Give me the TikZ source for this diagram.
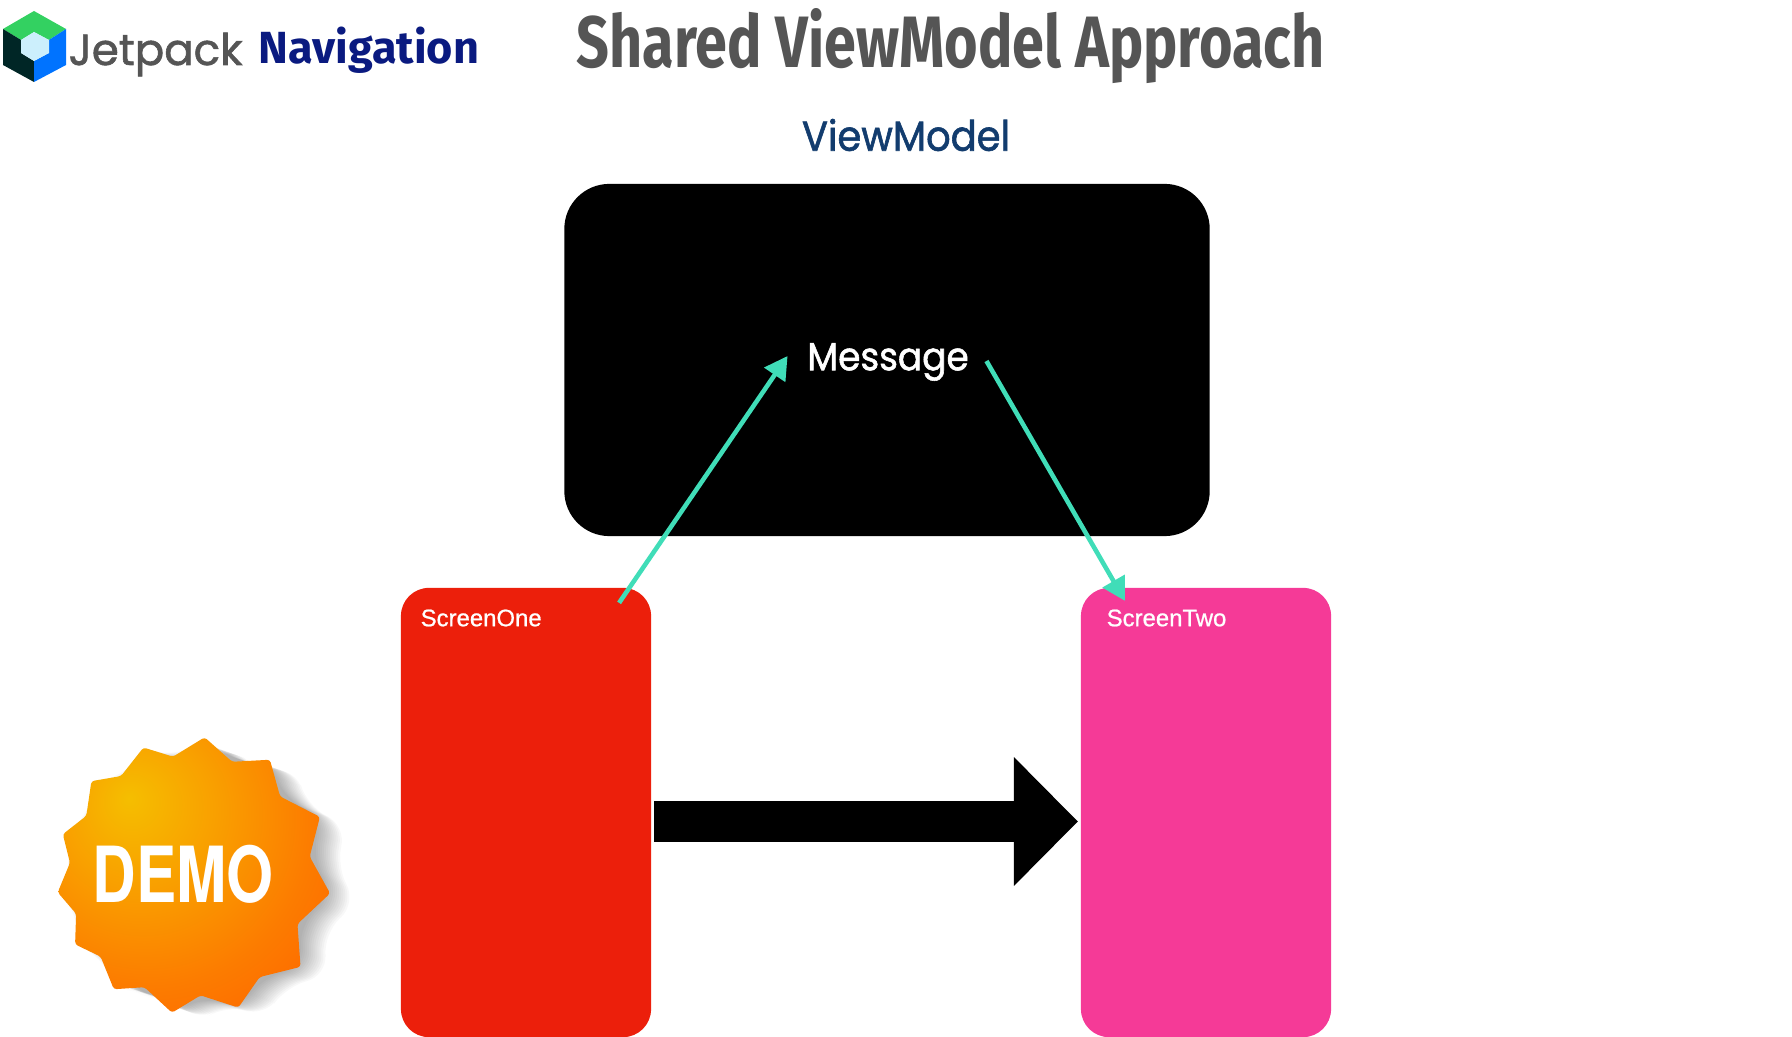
\documentclass[tikz,border=0pt]{standalone}
\usepackage{fontspec}
\usetikzlibrary{calc,arrows.meta}
\newfontfamily\titlefont[FakeStretch=0.79]{Fira Sans}
\newfontfamily\geofont[FakeStretch=0.92,FakeBold=1.4]{Poppins}
\newfontfamily\jetfont[FakeBold=1.4]{Poppins}
\newfontfamily\navfont{Fira Sans}
\newfontfamily\screenfont[FakeBold=0.8]{Liberation Sans}
\newfontfamily\demofont[FakeStretch=0.78]{TeX Gyre Heros}
\definecolor{tealline}{HTML}{40DDB8}
\definecolor{redbox}{HTML}{EC1F0B}
\definecolor{pinkbox}{HTML}{F53A97}
\definecolor{inkblue}{HTML}{123C6E}
\definecolor{navblue}{HTML}{0A1A80}
\definecolor{titlegray}{HTML}{555555}
\definecolor{glowa}{HTML}{F5BE00}
\definecolor{glowb}{HTML}{F9A000}
\definecolor{glowc}{HTML}{FC7C00}
\definecolor{glowd}{HTML}{FF6400}
\pgfdeclareradialshading{badgeglow}{\pgfpoint{-12bp}{14bp}}{%
  color(0bp)=(glowa);
  color(14bp)=(glowb);
  color(30bp)=(glowc);
  color(44bp)=(glowd);
  color(100bp)=(glowd)}
\def\badgeshape{(144,750) -- (173,759) -- (204,740) -- (231,764) -- (268,762) -- (278,798)
  -- (317,818) -- (307,857) -- (327,893) -- (295,923) -- (298,965) -- (258,975)
  -- (237,1005) -- (200,993) -- (172,1010) -- (145,985) -- (115,987) -- (102,955)
  -- (77,943) -- (78,913) -- (60,892) -- (72,863) -- (65,835) -- (88,817)
  -- (93,783) -- (122,778) -- cycle}
\tikzset{
  boxstyle/.style={rounded corners=#1, inner sep=0pt, outer sep=0pt},
  flowarrow/.style={draw=tealline, line width=1.3pt, -{Triangle[length=6.5pt,width=7pt]}},
  bigarrow/.style={draw=black, line width=0.4cm, -{Triangle[length=0.64cm,width=1.25cm]}},
  screenlabel/.style={text=white, font=\screenfont\fontsize{6.8}{8}\selectfont, anchor=west, inner sep=0pt}
}
\begin{document}
\begin{tikzpicture}[x=0.01cm,y=-0.01cm]
  \useasboundingbox (0,0) rectangle (1792,1037);
  % logo
  \fill[green!55!teal!80!white] (3,29) -- (34,11) -- (66,29) -- (49,40) -- (34,32) -- (21,40) -- cycle;
  \fill[black!70!teal] (3,29) -- (21,40) -- (21,53) -- (34,61) -- (34,82) -- (3,65) -- cycle;
  \fill[blue!55!cyan] (66,29) -- (66,65) -- (34,82) -- (34,61) -- (49,53) -- (49,40) -- cycle;
  \fill[cyan!20!white] (34,32) -- (49,40) -- (49,53) -- (34,61) -- (21,53) -- (21,40) -- cycle;
  % header
  \node (jetpack) at (68,65) [anchor=base west, inner sep=0pt, text=titlegray, font=\jetfont\fontsize{12.4}{16}\selectfont] {Jetpack};
  \node (navigation) at (258,64) [anchor=base west, inner sep=0pt, text=navblue, font=\navfont\bfseries\fontsize{12.8}{16}\selectfont] {Navigation};
  \node (title) at (576,68) [anchor=base west, inner sep=0pt, text=titlegray, font=\titlefont\bfseries\fontsize{20.7}{26}\selectfont] {Shared ViewModel Approach};
  \node (viewmodel) at (906,135) [inner sep=0pt, text=inkblue, font=\geofont\fontsize{11.9}{14}\selectfont] {ViewModel};
  % boxes
  \node (vmbox) at (887,360) [boxstyle=0.45cm, fill=black, minimum width=6.45cm, minimum height=3.52cm] {};
  \node (message) at (888,362) [inner sep=0pt, text=white, font=\geofont\fontsize{11.1}{14}\selectfont] {Message};
  \node (screenone) at (526,812.5) [boxstyle=0.28cm, fill=redbox, minimum width=2.5cm, minimum height=4.49cm] {};
  \node (screentwo) at (1206,812.5) [boxstyle=0.28cm, fill=pinkbox, minimum width=2.5cm, minimum height=4.49cm] {};
  \node (onelabel) at (420,618) [screenlabel] {ScreenOne};
  \node (twolabel) at (1106,618) [screenlabel] {ScreenTwo};
  % arrows
  \draw[flowarrow] ($(screenone.north east)+(-32,15)$) -- ($(message.west)+(-19,-6)$);
  \draw[flowarrow] ($(message.east)+(17,-1)$) -- ($(screentwo.north west)+(44,13)$);
  \draw[bigarrow] ($(screenone.east)+(3,9)$) -- ($(screentwo.west)+(-3,9)$);
  % badge
  \begin{scope}[shift={(172,875)},scale=1.02,shift={(-172,-875)}]
    \foreach \s in {2,4,...,26}
      \fill[black, opacity=.026, rounded corners=6pt, shift={(\s,\s*0.35)}] \badgeshape;
    \shade[shading=badgeglow, rounded corners=0.8pt] \badgeshape;
  \end{scope}
  \node (demo) at (183,874) [inner sep=0pt, text=white, font=\demofont\bfseries\fontsize{22}{24}\selectfont] {DEMO};
\end{tikzpicture}
\end{document}
